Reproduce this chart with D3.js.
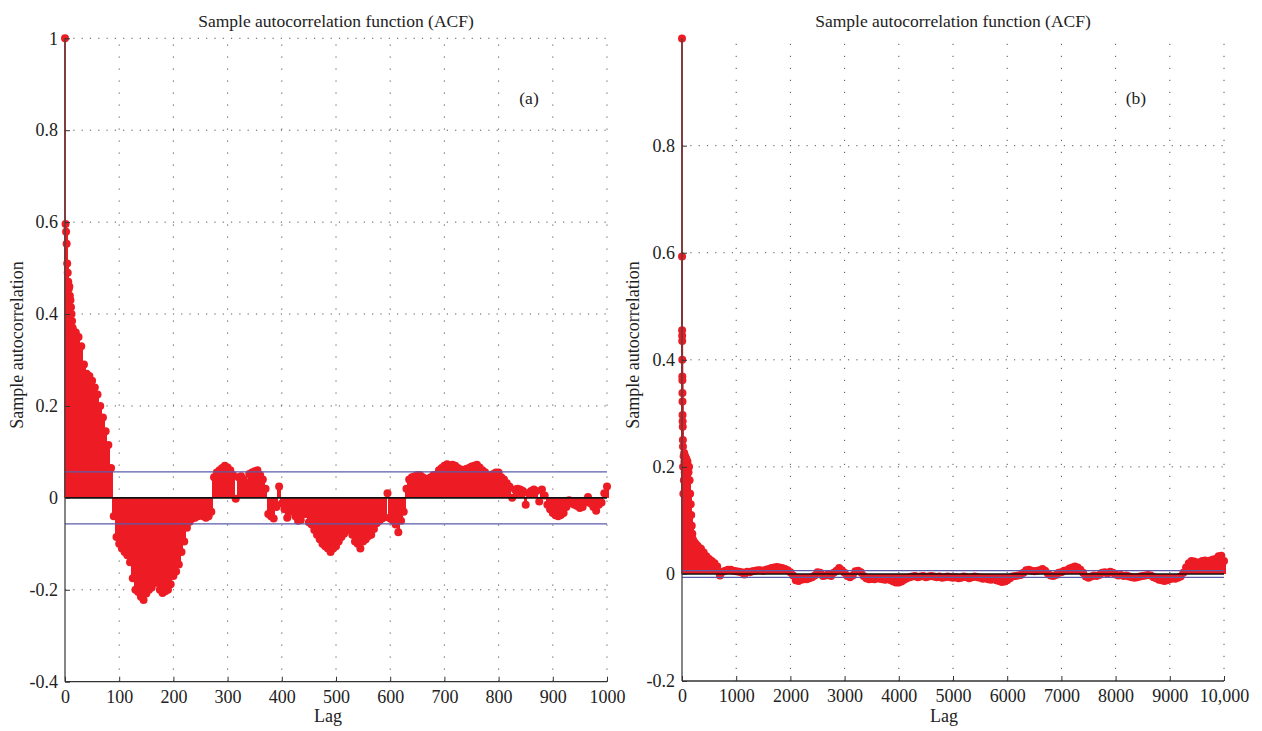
<!DOCTYPE html>
<html>
<head>
<meta charset="utf-8">
<script src="https://cdn.jsdelivr.net/npm/d3@7"></script>
<style>
  body { margin: 0; background: #fff; }
  svg { display: block; }
  text { font-family: "Liberation Serif", "Times New Roman", Times, serif; fill: #222; }
</style>
</head>
<body>
<svg id="chart" width="1262" height="731" font-family="Liberation Serif, Times New Roman, Times, serif"></svg>
<script>
// ---- panel (a): lags 0..15 one by one, then every 5 lags up to 1000
const lagsA = d3.range(0, 16).concat(d3.range(20, 1001, 5));
const acfA = [
  1, 0.596, 0.579, 0.553, 0.51, 0.49, 0.47, 0.455, 0.46, 0.44, 0.43, 0.415, 0.40, 0.385, 0.37, 0.365,
  // 20 .. 95
  0.36, 0.35, 0.33, 0.29, 0.27, 0.265, 0.255, 0.24, 0.225, 0.2, 0.175, 0.145, 0.115, 0.065, -0.04, -0.085,
  // 100 .. 195
  -0.1, -0.11, -0.118, -0.125, -0.14, -0.175, -0.2, -0.205, -0.215, -0.222, -0.208, -0.2, -0.195, -0.18, -0.185, -0.2, -0.207, -0.203, -0.2, -0.188,
  // 200 .. 295
  -0.17, -0.16, -0.145, -0.118, -0.095, -0.065, -0.052, -0.045, -0.043, -0.04, -0.038, -0.04, -0.043, -0.04, -0.03, 0.045, 0.055, 0.06, 0.065, 0.07,
  // 300 .. 395
  0.066, 0.06, 0.05, -0.002, 0.045, 0.047, 0.04, 0.032, 0.052, 0.055, 0.058, 0.06, 0.05, 0.04, 0.02, -0.035, -0.04, -0.045, -0.02, 0.025,
  // 400 .. 495
  -0.012, -0.025, -0.043, -0.03, -0.028, -0.04, -0.05, -0.048, -0.035, -0.035, -0.053, -0.058, -0.07, -0.08, -0.09, -0.1, -0.105, -0.11, -0.118, -0.11,
  // 500 .. 595
  -0.105, -0.095, -0.085, -0.078, -0.067, -0.07, -0.08, -0.095, -0.1, -0.11, -0.095, -0.09, -0.083, -0.08, -0.068, -0.055, -0.05, -0.045, -0.042, 0.01,
  // 600 .. 695
  -0.045, -0.05, -0.058, -0.075, -0.05, -0.03, 0.02, 0.04, 0.045, 0.047, 0.05, 0.05, 0.045, 0.04, 0.042, 0.045, 0.05, 0.05, 0.06, 0.065,
  // 700 .. 795
  0.07, 0.073, 0.07, 0.072, 0.07, 0.065, 0.062, 0.06, 0.063, 0.065, 0.068, 0.07, 0.072, 0.066, 0.06, 0.056, 0.05, 0.05, 0.052, 0.055,
  // 800 .. 895
  0.055, 0.045, 0.04, 0.032, 0.025, 0.0, 0.018, 0.02, 0.018, 0.015, -0.015, 0.01, 0.015, 0.018, 0.015, -0.008, 0.018, 0.005, -0.015, -0.025,
  // 900 .. 1000
  -0.033, -0.038, -0.04, -0.037, -0.033, -0.02, -0.005, -0.012, -0.015, -0.018, -0.022, -0.02, -0.01, 0.002, -0.012, -0.02, -0.028, -0.015, -0.01, 0.01, 0.025
];
const boundA = 0.0566;
const xTicksA = d3.range(0, 1001, 100);
const yTicksA = [-0.4, -0.2, 0, 0.2, 0.4, 0.6, 0.8, 1];

// ---- panel (b): dense near zero, then every 50 lags up to 10,000
const lagsB = [0, 1, 2, 3, 4, 5, 6, 7, 8, 9, 10, 12, 14, 16, 18, 20, 25, 30, 35, 40, 45, 50, 60, 70, 80, 90,
  100, 110, 120, 130, 140, 150, 160, 170, 180, 190, 200, 220, 240, 260, 280, 300, 350, 400, 450, 500, 550, 600, 650]
  .concat(d3.range(700, 10001, 50));
const acfB = [
  1, 0.593, 0.455, 0.445, 0.435, 0.40, 0.369, 0.362, 0.338, 0.322, 0.297, 0.285, 0.275, 0.25, 0.238, 0.2, 0.15, 0.22, 0.175, 0.226, 0.21, 0.19, 0.22, 0.2, 0.215, 0.195,
  0.21, 0.2, 0.19, 0.2, 0.175, 0.15, 0.13, 0.11, 0.09, 0.075, 0.065, 0.06, 0.058, 0.055, 0.053, 0.051, 0.047, 0.04, 0.033, 0.028, 0.024, 0.02, 0.014,
  // 700 .. 950
  -0.003, 0.004, 0.006, 0.008, 0.008, 0.006,
  // 1000 .. 1950
  0.005, 0.004, 0.003, -0.001, 0.004, 0.003, 0.005, 0.006, 0.007, 0.007, 0.006, 0.008, 0.009, 0.011, 0.012, 0.013, 0.012, 0.011, 0.009, 0.007,
  // 2000 .. 2950
  0.003, -0.003, -0.012, -0.013, -0.011, -0.01, -0.01, -0.008, -0.006, -0.003, 0.003, 0.002, -0.004, -0.003, 0.0, -0.004, 0.002, 0.006, 0.011, 0.007,
  // 3000 .. 3950
  0.002, -0.004, -0.006, -0.003, 0.005, 0.006, 0.003, -0.004, -0.008, -0.01, -0.009, -0.01, -0.008, -0.009, -0.01, -0.011, -0.009, -0.012, -0.014, -0.016,
  // 4000 .. 4950
  -0.016, -0.014, -0.011, -0.008, -0.006, -0.005, -0.004, -0.006, -0.005, -0.004, -0.006, -0.005, -0.004, -0.005, -0.006, -0.005, -0.007, -0.006, -0.005, -0.006,
  // 5000 .. 5950
  -0.007, -0.006, -0.008, -0.007, -0.005, -0.006, -0.008, -0.006, -0.005, -0.006, -0.007, -0.009, -0.008, -0.01, -0.011, -0.009, -0.012, -0.013, -0.015, -0.014,
  // 6000 .. 6950
  -0.012, -0.008, -0.005, -0.004, -0.003, -0.002, 0.002, 0.007, 0.008, 0.006, 0.005, 0.006, 0.007, 0.009, 0.006, 0.001, -0.003, -0.004, -0.002, 0.002,
  // 7000 .. 7950
  0.003, 0.006, 0.007, 0.01, 0.012, 0.014, 0.012, 0.008, 0.002, -0.005, -0.007, -0.005, -0.003, -0.004, -0.002, 0.002, 0.003, 0.001, 0.004, 0.002,
  // 8000 .. 8950
  -0.001, -0.003, -0.002, -0.004, -0.003, -0.005, -0.006, -0.007, -0.006, -0.005, -0.004, -0.003, -0.002, -0.003, -0.006, -0.008, -0.011, -0.012, -0.013, -0.012,
  // 9000 .. 10000
  -0.01, -0.008, -0.009, -0.007, -0.005, 0.002, 0.012, 0.02, 0.024, 0.023, 0.021, 0.022, 0.024, 0.025, 0.023, 0.025, 0.027, 0.028, 0.033, 0.034, 0.024
];
const boundB = 0.0063;
const xTicksB = d3.range(0, 10001, 1000);
const yTicksB = [-0.2, 0, 0.2, 0.4, 0.6, 0.8];

const titleText = "Sample autocorrelation function (ACF)";
const red = "#ed1c24";
const blue = "#5b5dab";
const serif = "'Liberation Serif', 'Times New Roman', Times, serif";

const svg = d3.select("#chart");

function drawPanel(o) {
  const x = d3.scaleLinear().domain(o.xDomain).range([o.left, o.right]);
  const y = d3.scaleLinear().domain(o.yDomain).range([o.bottom, o.top]);
  const g = svg.append("g");

  // dotted grid
  g.append("g").selectAll("line")
    .data(o.yTicks.filter(d => d !== o.yDomain[0] && d !== 0))
    .join("line")
    .attr("x1", o.left).attr("x2", o.right)
    .attr("y1", d => y(d)).attr("y2", d => y(d))
    .attr("stroke", "#555").attr("stroke-width", 1)
    .attr("stroke-dasharray", "1.2,7.1");
  g.append("g").selectAll("line")
    .data(o.xTicks.filter(d => d !== o.xDomain[0]))
    .join("line")
    .attr("x1", d => x(d)).attr("x2", d => x(d))
    .attr("y1", o.bottom).attr("y2", o.top + 4)
    .attr("stroke", "#555").attr("stroke-width", 1)
    .attr("stroke-dasharray", "1.2,10.8");

  // stems + markers (isolated tall stems near lag 0 drawn thin)
  const pts = o.lags.map((l, i) => ({ lag: l, v: o.vals[i] }));
  g.append("g").selectAll("line")
    .data(pts)
    .join("line")
    .attr("x1", d => x(d.lag)).attr("x2", d => x(d.lag))
    .attr("y1", y(0)).attr("y2", d => y(d.v))
    .attr("stroke", red)
    .attr("stroke-width", d => d.lag <= o.thinLag ? 1.8 : o.stemWidth)
    .attr("shape-rendering", d => d.lag <= o.thinLag ? null : "crispEdges");
  g.append("g").selectAll("circle")
    .data(pts)
    .join("circle")
    .attr("cx", d => x(d.lag)).attr("cy", d => y(d.v))
    .attr("r", 4)
    .attr("fill", red);

  // confidence bounds and zero line
  [o.bound, -o.bound].forEach(b => {
    g.append("line")
      .attr("x1", o.left).attr("x2", o.right)
      .attr("y1", y(b)).attr("y2", y(b))
      .attr("stroke", blue).attr("stroke-width", 1.3);
  });
  g.append("line")
    .attr("x1", o.left).attr("x2", o.right)
    .attr("y1", y(0)).attr("y2", y(0))
    .attr("stroke", "#111").attr("stroke-width", 1.6);

  // axes
  const fmtY = d => String(+d.toFixed(1));
  g.append("g")
    .attr("transform", `translate(${o.left},0)`)
    .call(d3.axisLeft(y).tickValues(o.yTicks).tickSize(-5).tickPadding(7).tickFormat(fmtY))
    .call(a => a.attr("font-family", null))
    .call(a => a.select(".domain").attr("d", `M0,${o.bottom}V${o.top}`).attr("stroke", "#444").attr("stroke-width", 1.3))
    .call(a => a.selectAll(".tick line").attr("stroke", "#333"))
    .call(a => a.selectAll(".tick text").attr("font-size", 18).attr("fill", "#222").style("font-family", serif));
  g.append("g")
    .attr("transform", `translate(0,${o.bottom})`)
    .call(d3.axisBottom(x).tickValues(o.xTicks).tickSize(-5).tickPadding(8.5).tickFormat(o.xFormat))
    .call(a => a.attr("font-family", null))
    .call(a => a.select(".domain").attr("d", `M${o.left},0H${o.right}`).attr("stroke", "#333").attr("stroke-width", 1.3))
    .call(a => a.selectAll(".tick line").attr("stroke", "#333"))
    .call(a => a.selectAll(".tick text").attr("font-size", 18).attr("fill", "#222").style("font-family", serif));

  // texts
  svg.append("text")
    .attr("x", (o.left + o.right) / 2).attr("y", 27)
    .attr("text-anchor", "middle").attr("font-size", 17.5)
    .style("font-family", serif)
    .text(titleText);
  svg.append("text")
    .attr("x", o.lagX).attr("y", 722)
    .attr("text-anchor", "middle").attr("font-size", 18)
    .style("font-family", serif)
    .text("Lag");
  svg.append("text")
    .attr("transform", `translate(${o.ylabelX},345) rotate(-90)`)
    .attr("text-anchor", "middle").attr("font-size", 18)
    .style("font-family", serif)
    .text("Sample autocorrelation");
  svg.append("text")
    .attr("x", o.tagX).attr("y", 104)
    .attr("text-anchor", "middle").attr("font-size", 17.5)
    .style("font-family", serif)
    .text(o.tag);
}

drawPanel({
  lags: lagsA, vals: acfA, bound: boundA,
  xDomain: [0, 1000], yDomain: [-0.4, 1],
  left: 65, right: 607, top: 38.3, bottom: 681.7,
  xTicks: xTicksA, yTicks: yTicksA, xFormat: d3.format("d"),
  stemWidth: 3.5, thinLag: 0, lagX: 328, ylabelX: 23, tag: "(a)", tagX: 529
});

drawPanel({
  lags: lagsB, vals: acfB, bound: boundB,
  xDomain: [0, 10000], yDomain: [-0.2, 1],
  left: 682, right: 1224, top: 38.6, bottom: 681,
  xTicks: xTicksB, yTicks: yTicksB, xFormat: d => d === 10000 ? "10,000" : d3.format("d")(d),
  stemWidth: 3.5, thinLag: 20, lagX: 944, ylabelX: 639, tag: "(b)", tagX: 1136
});
</script>
</body>
</html>
